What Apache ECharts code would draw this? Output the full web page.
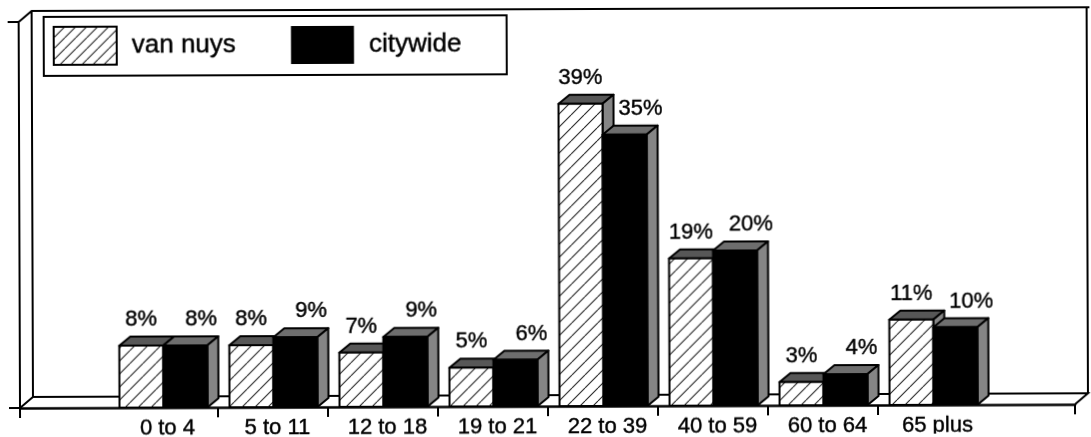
<!DOCTYPE html>
<html><head><meta charset="utf-8">
<style>html,body{margin:0;padding:0;background:#fff;overflow:hidden}
#c{width:1091px;height:437px;transform-origin:20px 408px;transform:rotate(-0.2deg)}</style>
<script src="https://cdn.jsdelivr.net/npm/echarts@6/dist/echarts.min.js"></script>
</head><body><div id="c"></div>
<script>
const categories = ['0 to 4','5 to 11','12 to 18','19 to 21','22 to 39','40 to 59','60 to 64','65 plus'];
const vanNuys = [8,8,7,5,39,19,3,11];
const citywide = [8,9,9,6,35,20,4,10];

const FONT = '"Liberation Sans", Arial, sans-serif';
const DX = 11, DY = 9, BAR = 44, OFFSET = 11.5;
function hatch(s){
  const c = document.createElement('canvas');
  c.width = s; c.height = s;
  const g = c.getContext('2d');
  g.fillStyle = '#fff'; g.fillRect(0,0,s,s);
  g.strokeStyle = '#222'; g.lineWidth = 1.1;
  for (const k of [-s,0,s]) { g.beginPath(); g.moveTo(k,s); g.lineTo(k+s,0); g.stroke(); }
  return {image:c, repeat:'repeat'};
}
const hatchFill = hatch(13), legendHatch = hatch(11);
const fronts = {'van nuys':hatchFill, 'citywide':'#000'};

function barSeries(name, values, slot, labelShift){
  return {
    name, type:'custom', clip:false, coordinateSystem:'cartesian2d',
    itemStyle:{color:fronts[name], borderColor:'#000', borderWidth:name==='van nuys'?1.5:0},
    data: values.map((v,i)=>[i,v]),
    renderItem(params, api){
      const i = api.value(0), v = api.value(1);
      const p = api.coord([i, v]), b = api.coord([i, 0]);
      const x0 = p[0] + OFFSET + slot*BAR, x1 = x0 + BAR, yt = p[1], yb = b[1];
      const line = {stroke:'#000', lineWidth:2, lineJoin:'round'};
      return {type:'group', children:[
        {type:'polygon', shape:{points:[[x0,yt],[x0+DX,yt-DY],[x1+DX,yt-DY],[x1,yt]]}, style:{fill:slot?'#6e6e6e':'#575757',...line}},
        {type:'polygon', shape:{points:[[x1,yt],[x1+DX,yt-DY],[x1+DX,yb-DY],[x1,yb]]}, style:{fill:'#858585',...line}},
        {type:'rect', shape:{x:x0,y:yt,width:BAR,height:yb-yt}, style:{fill:fronts[name],...line}},
        {type:'text', style:{text:v+'%', x:(x0+x1)/2+labelShift, y:yt-DY-6, fill:'#000', stroke:'#000', lineWidth:0.4, font:'22px '+FONT, textAlign:'center', textVerticalAlign:'bottom'}}
      ]};
    }
  };
}

const chart = echarts.init(document.getElementById('c'), null, {renderer:'canvas'});
const L=20,R=1075,T=22,B=408,WX=13,WY=11;
const frame = {stroke:'#000', lineWidth:2, fill:null};
chart.setOption({
  animation:false,
  backgroundColor:'#fff',
  grid:{left:L,right:1091-R,top:T,bottom:437-B,outerBoundsMode:'none'},
  legend:{
    left:45, top:17, orient:'horizontal',
    padding:[9,45,10,9], borderColor:'#000', borderWidth:2, backgroundColor:'#fff',
    itemWidth:63, itemHeight:38, itemGap:55,
    textStyle:{fontFamily:FONT,fontSize:26,color:'#000',textBorderColor:'#000',textBorderWidth:0.4,padding:[0,0,0,10]},
    data:[{name:'van nuys',icon:'rect',itemStyle:{color:legendHatch,borderColor:'#000',borderWidth:2}},
          {name:'citywide',icon:'rect',itemStyle:{color:'#000',borderWidth:0}}]
  },
  xAxis:{type:'value',min:-0.8,max:8.79,splitLine:{show:false},
    axisLine:{show:true,onZero:false,lineStyle:{color:'#000',width:2.5}},
    axisTick:{show:true,length:10,lineStyle:{color:'#000',width:2},customValues:[-0.8,1,2,3,4,5,6,7,8.79]},
    axisLabel:{show:true,margin:9.5,fontFamily:FONT,fontSize:22,color:'#000',textBorderColor:'#000',textBorderWidth:0.4,
      customValues:categories.map((_,i)=>i+0.54),
      formatter:v=>categories[Math.round(v-0.54)]}},
  yAxis:{type:'value',min:0,max:49.8,splitLine:{show:false},
    axisLine:{show:true,onZero:false,lineStyle:{color:'#000',width:2}},
    axisTick:{show:true,length:11,lineStyle:{color:'#000',width:2},customValues:[0,49.8]},
    axisLabel:{show:false}},
  graphic:[
    {type:'polyline',silent:true,z:-1,shape:{points:[[L,T],[L+WX,T-WY],[1091,T-WY]]},style:frame},
    {type:'polyline',silent:true,z:-1,shape:{points:[[L,B],[L+WX,B-WY],[R+WX,B-WY],[R,B]]},style:frame},
    {type:'line',silent:true,z:-1,shape:{x1:L+WX,y1:T-WY,x2:L+WX,y2:B-WY},style:frame},
    {type:'line',silent:true,z:-1,shape:{x1:R+WX,y1:T-WY,x2:R+WX,y2:B-WY},style:frame}
  ],
  series:[barSeries('van nuys',vanNuys,0,0),barSeries('citywide',citywide,1,16)]
});
</script></body></html>
